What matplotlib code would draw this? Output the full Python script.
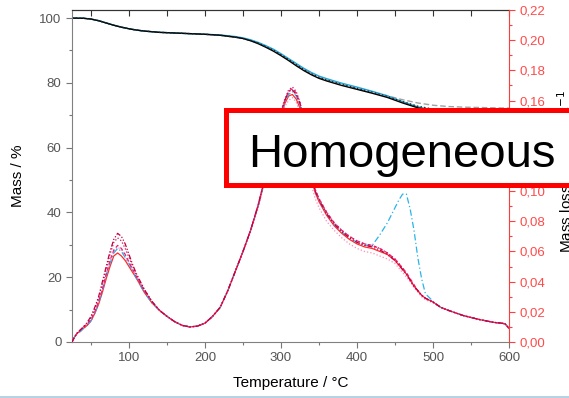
import matplotlib.pyplot as plt
from matplotlib.patches import Rectangle
from matplotlib.lines import Line2D
from matplotlib.ticker import MultipleLocator, FuncFormatter

plt.rcParams['font.family'] = ['Liberation Sans', 'DejaVu Sans']

# TG (mass) curves
T_tg = [25, 40, 50, 60, 70, 80, 90, 100, 110, 120, 140, 160, 180, 200, 220,
        240, 250, 260, 270, 280, 290, 300, 310, 320, 330, 340, 350, 360, 380,
        400, 420, 440, 460, 480, 500, 520, 540, 560, 580, 600]
tg_black = [100.0, 99.95, 99.7, 99.2, 98.5, 97.8, 97.2, 96.7, 96.3, 96.0, 95.6,
            95.4, 95.2, 95.0, 94.7, 94.1, 93.7, 93.0, 92.1, 91.0, 89.8, 88.4,
            86.9, 85.3, 83.8, 82.5, 81.4, 80.6, 79.2, 78.0, 76.8, 75.5, 73.8,
            72.3, 71.4, 70.9, 70.6, 70.4, 70.2, 70.1]
tg_dotted = [100.0, 99.95, 99.7, 99.2, 98.5, 97.8, 97.2, 96.7, 96.3, 96.0, 95.6,
             95.4, 95.2, 95.0, 94.7, 94.1, 93.7, 93.1, 92.3, 91.2, 90.1, 88.7,
             87.2, 85.6, 84.1, 82.8, 81.7, 80.9, 79.5, 78.3, 77.1, 75.8, 74.2,
             72.8, 71.9, 71.4, 71.1, 70.9, 70.7, 70.6]
tg_gray = [100.0, 99.95, 99.7, 99.2, 98.5, 97.8, 97.2, 96.7, 96.3, 96.0, 95.6,
           95.4, 95.2, 95.0, 94.7, 94.1, 93.7, 93.1, 92.3, 91.2, 90.1, 88.7,
           87.2, 85.6, 84.1, 82.8, 81.7, 80.9, 79.5, 78.3, 77.1, 76.0, 74.8,
           73.8, 73.1, 72.7, 72.5, 72.4, 72.3, 72.2]
tg_cyan = [100.0, 99.95, 99.7, 99.2, 98.5, 97.8, 97.2, 96.7, 96.3, 96.0, 95.6,
           95.4, 95.2, 95.0, 94.8, 94.3, 93.9, 93.3, 92.5, 91.5, 90.4, 89.0,
           87.5, 86.0, 84.5, 83.2, 82.1, 81.3, 79.9, 78.7, 77.4, 76.0, 74.2,
           72.6, 71.6, 71.0, 70.7, 70.5, 70.3, 70.2]

# DTG (mass loss rate) curves
T_dtg = [25, 28, 32, 36, 40, 45, 50, 55, 60, 65, 70, 75, 80, 85, 90, 95, 100,
         105, 110, 120, 130, 140, 150, 160, 170, 180, 190, 200, 210, 220, 230,
         240, 250, 260, 270, 280, 290, 300, 305, 310, 315, 320, 325, 330, 335,
         340, 345, 350, 360, 370, 380, 390, 400, 410, 420, 430, 440, 450, 455,
         460, 465, 470, 475, 480, 485, 490, 500, 510, 520, 540, 560, 580, 590,
         595, 600]
dtg_red = [.000, .003, .006, .007, .009, .011, .014, .019, .025, .033,
           .042, .050, .057, .059, .057, .054, .050, .046, .042, .033,
           .026, .021, .017, .0135, .011, .010, .0105, .0125, .017, .023,
           .034, .047, .060, .074, .090, .110, .131, .150, .158, .163,
           .164, .161, .155, .144, .126, .108, .099, .093, .084, .077,
           .072, .068, .065, .063, .062, .060, .058, .054, .051, .048,
           .045, .041, .037, .034, .031, .029, .0265, .023, .021, .0175,
           .015, .013, .0125, .012, .009]
dtg_cyan = [.000, .003, .006, .007, .009, .011, .014, .019, .026, .034,
            .044, .052, .059, .062, .060, .056, .052, .047, .042, .033,
            .026, .021, .017, .0135, .011, .010, .0105, .0125, .017, .023,
            .034, .047, .060, .074, .090, .110, .131, .151, .159, .164,
            .166, .163, .157, .146, .128, .109, .100, .094, .085, .078,
            .073, .069, .066, .064, .064, .071, .079, .089, .094, .098,
            .098, .088, .074, .056, .042, .032, .027, .023, .021, .0175,
            .015, .013, .0125, .012, .009]
dtg_magenta = [.000, .003, .006, .008, .010, .012, .015, .020, .027, .035,
               .045, .054, .061, .064, .062, .058, .053, .048, .043, .034,
               .027, .021, .017, .0135, .011, .010, .0105, .0125, .017, .023,
               .034, .047, .060, .074, .091, .111, .132, .152, .160, .166,
               .168, .165, .158, .147, .129, .110, .101, .095, .086, .079,
               .074, .070, .067, .065, .064, .062, .059, .055, .052, .049,
               .046, .042, .038, .034, .031, .029, .0265, .023, .021, .0175,
               .015, .013, .0125, .012, .009]
dtg_pink = [.000, .003, .006, .007, .009, .011, .014, .019, .026, .034,
            .044, .053, .060, .063, .061, .057, .052, .047, .043, .034,
            .027, .021, .017, .0135, .011, .010, .0105, .0125, .017, .023,
            .034, .047, .060, .073, .089, .109, .130, .149, .156, .160,
            .162, .159, .152, .140, .122, .104, .095, .089, .080, .074,
            .069, .065, .062, .060, .059, .057, .055, .052, .049, .046,
            .043, .040, .036, .033, .030, .028, .026, .023, .021, .0175,
            .015, .013, .0125, .012, .009]
dtg_crimson = [.000, .003, .006, .008, .010, .012, .016, .022, .029, .038,
               .048, .058, .066, .069, .067, .062, .056, .050, .044, .035,
               .027, .021, .017, .0135, .011, .010, .0105, .0125, .017, .023,
               .034, .047, .060, .074, .091, .111, .132, .153, .161, .167,
               .169, .166, .159, .148, .130, .111, .101, .095, .086, .079,
               .074, .070, .067, .065, .064, .062, .059, .055, .052, .049,
               .045, .041, .037, .034, .031, .029, .0265, .023, .021, .0175,
               .015, .013, .0125, .012, .009]
dtg_darkred = [.000, .003, .006, .008, .010, .013, .017, .023, .030, .040,
               .050, .060, .068, .072, .070, .065, .058, .051, .045, .035,
               .027, .021, .017, .0135, .011, .010, .0105, .0125, .017, .023,
               .034, .047, .060, .074, .091, .111, .132, .152, .160, .166,
               .167, .164, .158, .147, .129, .110, .100, .094, .085, .078,
               .073, .069, .066, .064, .063, .061, .058, .054, .051, .048,
               .045, .041, .037, .034, .031, .029, .0265, .023, .021, .0175,
               .015, .013, .0125, .012, .009]

W, H = 569, 398
fig = plt.figure(figsize=(W / 100, H / 100), dpi=100)
ax = fig.add_axes([72 / W, 1 - 342 / H, (509 - 72) / W, (342 - 10) / H])

ax.plot(T_tg, tg_gray, color='#a0a0a0', lw=1.0, ls='--', dashes=(4, 2))
ax.plot(T_tg, tg_cyan, color='#1ea7de', lw=1.0)
ax.plot(T_tg, tg_black, color='black', lw=1.0)
ax.plot(T_tg, tg_dotted, color='#222222', lw=1.0, ls=':')

ax.set_xlim(25, 600)
ax.set_ylim(0, 102.5)
ax.xaxis.set_major_locator(MultipleLocator(100))
ax.xaxis.set_minor_locator(MultipleLocator(50))
ax.yaxis.set_major_locator(MultipleLocator(20))
ax.yaxis.set_minor_locator(MultipleLocator(10))
ax.tick_params(which='both', direction='out', colors='#777777',
               labelcolor='#555555', labelsize=9.5, width=0.8, top=False)
ax.tick_params(which='major', length=4)
ax.tick_params(which='minor', length=2.5)
for s in ['left', 'bottom']:
    ax.spines[s].set_color('#808080')
ax.spines['top'].set_color('#333333')
ax.spines['right'].set_visible(False)
ax.set_xlabel('Temperature / °C', fontsize=11, labelpad=8)
ax.set_ylabel('Mass / %', fontsize=11, labelpad=10)

top = ax.secondary_xaxis('top')
top.set_xticks(range(50, 601, 50))
top.tick_params(direction='in', length=4, labeltop=False, colors='#333333', width=0.8)
top.spines['top'].set_color('#333333')

ax2 = ax.twinx()
ax2.plot(T_dtg, dtg_pink, color='#ff8ab8', lw=0.9, ls=':')
ax2.plot(T_dtg, dtg_red, color='#ff2a2a', lw=0.9)
ax2.plot(T_dtg, dtg_cyan, color='#29b4ea', lw=0.9, ls='-.', dashes=(5, 2, 1, 2))
ax2.plot(T_dtg, dtg_magenta, color='#e8207c', lw=0.9, ls='--', dashes=(3, 2))
ax2.plot(T_dtg, dtg_crimson, color='#d4145a', lw=0.9, ls=':')
ax2.plot(T_dtg, dtg_darkred, color='#c4003c', lw=0.9, dashes=(4, 1.5, 1, 1.5, 1, 1.5))
ax2.set_ylim(0, 0.22)
ax2.yaxis.set_major_locator(MultipleLocator(0.02))
ax2.yaxis.set_minor_locator(MultipleLocator(0.01))
ax2.yaxis.set_major_formatter(FuncFormatter(lambda v, _: f"{v:.2f}".replace('.', ',')))
ax2.tick_params(which='both', direction='out', colors='#ff4040',
                labelcolor='#ff4a4a', labelsize=9.5, width=0.8)
ax2.tick_params(which='major', length=4)
ax2.tick_params(which='minor', length=2.5)
ax2.spines['right'].set_color('#ff3b3b')
for s in ['left', 'bottom', 'top']:
    ax2.spines[s].set_visible(False)

# right axis title sits at the image edge and is partly cut, as in the source
fig.text(566 / W, 1 - 171 / H, 'Mass loss rate / %·°C$^{-1}$', rotation=90,
         ha='center', va='center', fontsize=11)

# overlay label box
box = Rectangle((225.5 / W, 1 - 184.5 / H), 400 / W, 74 / H,
                transform=fig.transFigure, facecolor='white',
                edgecolor='#ff0000', lw=3.6, zorder=5)
fig.patches.append(box)
fig.text(248 / W, 1 - 167 / H, 'Homogeneous', fontsize=34, ha='left',
         va='baseline', color='black', zorder=6)

fig.lines.append(Line2D([0, 1], [1 - 397 / H, 1 - 397 / H], transform=fig.transFigure,
                        color='#a9c9dc', lw=1.2))

fig.savefig('out.png', dpi=100)
